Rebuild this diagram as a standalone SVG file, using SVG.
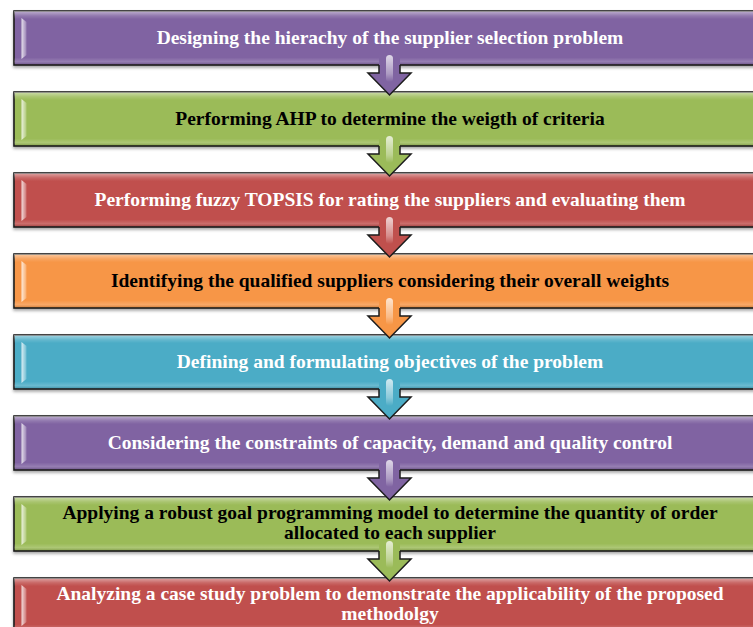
<svg xmlns="http://www.w3.org/2000/svg" width="753" height="627" viewBox="0 0 753 627">
  <defs>
    <style>
      .box { stroke: #1c1c1c; stroke-width: 1.6; filter: url(#shadow); }
      .sheen { fill: url(#sheen); }
      .bevel { fill: url(#bevel); }
      .lbl { font-family: "Liberation Serif", "Times New Roman", serif; font-weight: bold; font-size: 19.5px; text-anchor: middle; }
      .light { fill: #ffffff; }
      .dark { fill: #000000; }
      .purple .box { fill: #8064A2; }
      .green .box { fill: #9BBB59; }
      .red .box { fill: #C0504D; }
      .orange .box { fill: #F79646; }
      .aqua .box { fill: #4BACC6; }
      .edge { fill: none; stroke: #1c1c1c; stroke-width: 1.5; stroke-linejoin: miter; }
    </style>
    <!-- bevel lighting shared by every step box -->
    <linearGradient id="sheen" x1="0" y1="0" x2="0" y2="1">
      <stop offset="0" stop-color="#ffffff" stop-opacity="0.5"/>
      <stop offset="0.09" stop-color="#ffffff" stop-opacity="0.14"/>
      <stop offset="0.15" stop-color="#ffffff" stop-opacity="0"/>
      <stop offset="0.86" stop-color="#ffffff" stop-opacity="0"/>
      <stop offset="0.94" stop-color="#ffffff" stop-opacity="0.18"/>
      <stop offset="1" stop-color="#000000" stop-opacity="0.15"/>
    </linearGradient>
    <linearGradient id="bevel" x1="0" y1="0" x2="1" y2="0">
      <stop offset="0" stop-color="#ffffff" stop-opacity="0.8"/>
      <stop offset="1" stop-color="#ffffff" stop-opacity="0.2"/>
    </linearGradient>
    <linearGradient id="glint" x1="0" y1="0" x2="0" y2="1">
      <stop offset="0" stop-color="#ffffff" stop-opacity="0.75"/>
      <stop offset="0.7" stop-color="#ffffff" stop-opacity="0.35"/>
      <stop offset="1" stop-color="#ffffff" stop-opacity="0"/>
    </linearGradient>
    <filter id="shadow" x="-5%" y="-20%" width="110%" height="160%">
      <feDropShadow dx="0" dy="2" stdDeviation="1.5" flood-color="#000000" flood-opacity="0.35"/>
    </filter>
    <!-- down arrow, drawn relative to the bottom edge of the upper box -->
    <g id="downArrow">
      <path d="M379,-10 V8 H368 L389.5,30 L411,8 H400 V-10 Z"/>
      <path class="edge" d="M379,0 V8 H368 L389.5,30 L411,8 H400 V0"/>
      <rect x="386" y="-10" width="7" height="27" rx="3.5" fill="url(#glint)"/>
    </g>
  </defs>

  <g id="nodes">
    <g id="step1" class="purple" transform="translate(0,11)">
      <rect class="box" x="14" y="0" width="760" height="54"/>
      <rect class="sheen" x="14" y="0" width="760" height="54"/>
      <polygon class="bevel" points="21.5,7 26.5,11 26.5,44 21.5,48"/>
      <text class="lbl light" x="390" y="32.5">Designing the hierachy of the supplier selection problem</text>
    </g>
    <g id="step2" class="green" transform="translate(0,92)">
      <rect class="box" x="14" y="0" width="760" height="54"/>
      <rect class="sheen" x="14" y="0" width="760" height="54"/>
      <polygon class="bevel" points="21.5,7 26.5,11 26.5,44 21.5,48"/>
      <text class="lbl dark" x="390" y="32.5">Performing AHP to determine the weigth of criteria</text>
    </g>
    <g id="step3" class="red" transform="translate(0,173)">
      <rect class="box" x="14" y="0" width="760" height="54"/>
      <rect class="sheen" x="14" y="0" width="760" height="54"/>
      <polygon class="bevel" points="21.5,7 26.5,11 26.5,44 21.5,48"/>
      <text class="lbl light" x="390" y="32.5">Performing fuzzy TOPSIS for rating the suppliers and evaluating them</text>
    </g>
    <g id="step4" class="orange" transform="translate(0,254)">
      <rect class="box" x="14" y="0" width="760" height="54"/>
      <rect class="sheen" x="14" y="0" width="760" height="54"/>
      <polygon class="bevel" points="21.5,7 26.5,11 26.5,44 21.5,48"/>
      <text class="lbl dark" x="390" y="32.5">Identifying the qualified suppliers considering their overall weights</text>
    </g>
    <g id="step5" class="aqua" transform="translate(0,335)">
      <rect class="box" x="14" y="0" width="760" height="54"/>
      <rect class="sheen" x="14" y="0" width="760" height="54"/>
      <polygon class="bevel" points="21.5,7 26.5,11 26.5,44 21.5,48"/>
      <text class="lbl light" x="390" y="32.5">Defining and formulating objectives of the problem</text>
    </g>
    <g id="step6" class="purple" transform="translate(0,416)">
      <rect class="box" x="14" y="0" width="760" height="54"/>
      <rect class="sheen" x="14" y="0" width="760" height="54"/>
      <polygon class="bevel" points="21.5,7 26.5,11 26.5,44 21.5,48"/>
      <text class="lbl light" x="390" y="32.5">Considering the constraints of capacity, demand and quality control</text>
    </g>
    <g id="step7" class="green" transform="translate(0,497)">
      <rect class="box" x="14" y="0" width="760" height="54"/>
      <rect class="sheen" x="14" y="0" width="760" height="54"/>
      <polygon class="bevel" points="21.5,7 26.5,11 26.5,44 21.5,48"/>
      <text class="lbl dark" x="390" y="22">Applying a robust goal programming model to determine the quantity of order</text>
      <text class="lbl dark" x="390" y="42">allocated to each supplier</text>
    </g>
    <g id="step8" class="red" transform="translate(0,578)">
      <rect class="box" x="14" y="0" width="760" height="54"/>
      <rect class="sheen" x="14" y="0" width="760" height="54"/>
      <polygon class="bevel" points="21.5,7 26.5,11 26.5,44 21.5,48"/>
      <text class="lbl light" x="390" y="21.5">Analyzing a case study problem to demonstrate the applicability of the proposed</text>
      <text class="lbl light" x="390" y="41.5">methodolgy</text>
    </g>
  </g>

  <g id="connectors">
    <use href="#downArrow" y="65" fill="#8064A2"/>
    <use href="#downArrow" y="146" fill="#9BBB59"/>
    <use href="#downArrow" y="227" fill="#C0504D"/>
    <use href="#downArrow" y="308" fill="#F79646"/>
    <use href="#downArrow" y="389" fill="#4BACC6"/>
    <use href="#downArrow" y="470" fill="#8064A2"/>
    <use href="#downArrow" y="551" fill="#9BBB59"/>
  </g>
</svg>
